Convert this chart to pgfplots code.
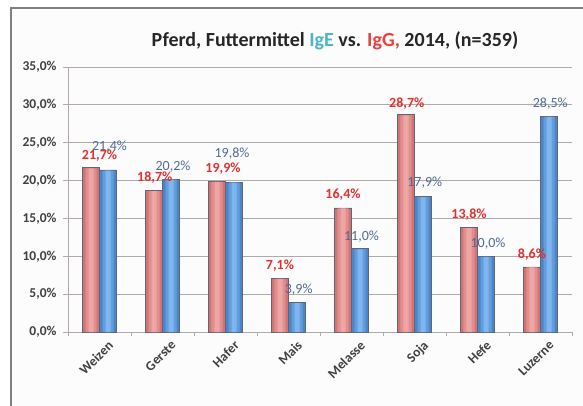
\documentclass[border=0pt]{standalone}
\usepackage{fontspec}
\setmainfont{Carlito}
\usepackage{pgfplots}
\usepackage{pgfplotstable}
\pgfplotsset{compat=1.18}
\definecolor{redA}{RGB}{208,116,116}
\definecolor{redB}{RGB}{226,142,142}
\definecolor{redC}{RGB}{238,166,165}
\definecolor{blueA}{RGB}{76,134,200}
\definecolor{blueB}{RGB}{98,158,222}
\definecolor{blueC}{RGB}{128,182,238}
\definecolor{barEdge}{RGB}{95,100,118}
\definecolor{redlab}{RGB}{226,48,44}
\definecolor{bluelab}{RGB}{80,106,150}
\definecolor{teal}{RGB}{75,180,200}
\definecolor{titleRed}{RGB}{232,64,60}
\definecolor{gridc}{RGB}{178,170,170}
\definecolor{tickc}{RGB}{64,64,64}
\pgfplotstableread{
x igg ige rdx rdy bdx bdy
0 21.7 21.4 8.5 0 1.5 10.5
1 18.7 20.2 0.75 0 2 0
2 19.9 19.8 6 0.5 -2 15.5
3 7.1 3.9 0 0 1.7 0
4 16.4 11.0 0 1 1.5 0
5 28.7 17.9 0.75 -1 1.75 1
6 13.8 10.0 0 0 2 0.5
7 8.6 28.5 0 0 1.25 0
}\datatable
\begin{document}
\begin{tikzpicture}
\useasboundingbox (0,0) rectangle (583pt,405pt);
\clip (0,0) rectangle (583pt,405pt);
\fill[white] (0,0) rectangle (583pt,405pt);
\fill[black!1] (11pt,-5pt) rectangle (600pt,397pt);
\draw[black!50, line width=1.3pt] (11pt,-5pt) -- (11pt,397pt) -- (600pt,397pt);
\node[font=\fontsize{20}{24}\selectfont\bfseries, text=black!85] at (335pt,364pt)
  {Pferd, Futtermittel \textcolor{teal}{IgE} vs. \textcolor{titleRed}{IgG,} 2014, (n=359)};
\begin{axis}[
  at={(68pt,73pt)}, anchor=south west,
  width=504pt, height=265pt, scale only axis,
  xmin=-0.5, xmax=7.5, ymin=0, ymax=35,
  axis x line*=bottom, axis y line*=left,
  axis line style={draw=gridc, line width=1pt},
  ytick={0,5,...,35},
  yticklabel={\pgfmathprintnumber[fixed,fixed zerofill,precision=1,use comma]{\tick}\%},
  /pgf/number format/assume math mode=true,
  ymajorgrids, grid style={draw=gridc, line width=1pt},
  ytick style={draw=gridc, line width=1pt},
  tick align=outside, major tick length=5pt,
  xtick={0,...,7},
  xticklabels={Weizen,Gerste,Hafer,Mais,Melasse,Soja,Hefe,Luzerne},
  x tick style={draw=none},
  minor xtick={-0.5,0.5,...,7.5},
  minor x tick style={draw=gridc, line width=1pt},
  minor tick length=4pt,
  tick label style={font=\fontsize{13.5}{16}\selectfont\bfseries, text=tickc},
  xticklabel style={rotate=45, anchor=north east, xshift=7pt, yshift=-4pt},
  yticklabel style={xshift=-3pt},
  clip=false,
]
% IgG (red) bars
\addplot[ybar, bar width=17pt, bar shift=-8.5pt, draw=barEdge, line width=0.6pt, fill=redA]
  table[x=x, y=igg] {\datatable};
\addplot[ybar, bar width=11pt, bar shift=-8.5pt, draw=none, fill=redB, forget plot]
  table[x=x, y expr=\thisrow{igg}-0.08] {\datatable};
\addplot[ybar, bar width=5pt, bar shift=-8.5pt, draw=none, fill=redC, forget plot]
  table[x=x, y expr=\thisrow{igg}-0.08] {\datatable};
% IgE (blue) bars
\addplot[ybar, bar width=17pt, bar shift=8.5pt, draw=barEdge, line width=0.6pt, fill=blueA]
  table[x=x, y=ige] {\datatable};
\addplot[ybar, bar width=11pt, bar shift=8.5pt, draw=none, fill=blueB, forget plot]
  table[x=x, y expr=\thisrow{ige}-0.08] {\datatable};
\addplot[ybar, bar width=5pt, bar shift=8.5pt, draw=none, fill=blueC, forget plot]
  table[x=x, y expr=\thisrow{ige}-0.08] {\datatable};
% data labels
\addplot[draw=none, mark=none, forget plot,
  nodes near coords={\pgfmathprintnumber[fixed,fixed zerofill,precision=1,use comma]{\pgfplotspointmeta}\%},
  visualization depends on={\thisrow{rdx} \as \dx},
  visualization depends on={\thisrow{rdy} \as \dy},
  every node near coord/.append style={anchor=center, xshift=\dx pt-8.5pt, yshift=12.5pt+\dy pt,
     font=\fontsize{14}{16}\selectfont\bfseries, text=redlab}]
  table[x=x, y=igg] {\datatable};
\addplot[draw=none, mark=none, forget plot,
  nodes near coords={\pgfmathprintnumber[fixed,fixed zerofill,precision=1,use comma]{\pgfplotspointmeta}\%},
  visualization depends on={\thisrow{bdx} \as \dx},
  visualization depends on={\thisrow{bdy} \as \dy},
  every node near coord/.append style={anchor=center, xshift=\dx pt+8.5pt, yshift=12.5pt+\dy pt,
     font=\fontsize{14}{16}\selectfont, text=bluelab}]
  table[x=x, y=ige] {\datatable};
\end{axis}
\end{tikzpicture}
\end{document}
